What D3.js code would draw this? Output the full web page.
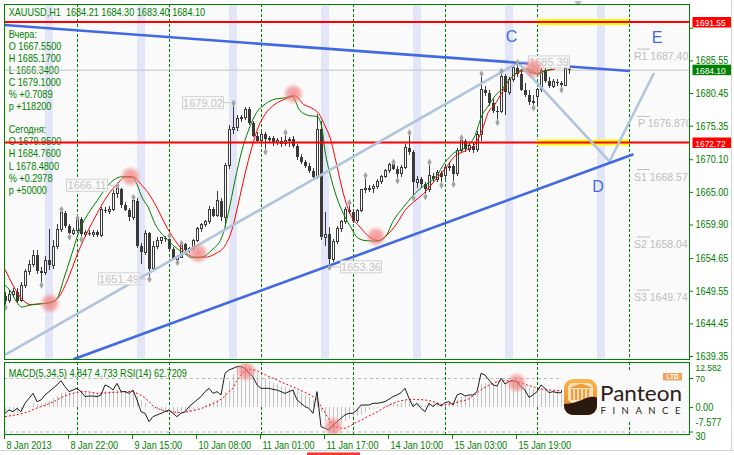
<!DOCTYPE html>
<html><head><meta charset="utf-8"><title>XAUUSD,H1</title>
<script src="https://cdn.jsdelivr.net/npm/d3@7"></script>
<style>html,body{margin:0;padding:0;background:#ffffff;}svg{display:block;}</style>
</head><body>
<svg id="chart"></svg>
<script>
// ---------------- DATA ----------------
const symbolName = "XAUUSD,H1";
const opens = [1648.8,1648.0,1649.0,1649.4,1648.0,1650.4,1652.5,1653.6,1655.1,1652.7,
1652.4,1654.3,1653.5,1656.5,1659.1,1661.7,1659.7,1658.5,1658.9,1660.8,
1658.4,1658.6,1658.4,1658.7,1658.2,1662.2,1662.0,1662.3,1664.8,1665.5,
1662.9,1662.2,1661.0,1663.6,1656.6,1655.6,1658.5,1653.0,1656.4,1657.4,
1657.8,1657.6,1656.1,1654.5,1654.8,1656.9,1655.9,1656.1,1657.4,1659.2,
1659.9,1660.3,1662.3,1661.3,1663.6,1661.0,1669.1,1674.8,1675.1,1676.4,
1676.6,1677.9,1675.8,1673.8,1673.0,1674.0,1673.2,1673.4,1672.7,1673.0,
1672.5,1673.0,1673.2,1672.2,1670.4,1669.6,1669.1,1668.3,1667.3,1674.8,
1657.9,1658.4,1654.5,1657.2,1659.2,1660.3,1662.2,1661.9,1660.5,1662.1,
1665.3,1665.5,1665.6,1665.9,1666.7,1667.4,1668.3,1669.3,1668.6,1667.8,
1668.8,1671.9,1671.2,1666.5,1667.0,1666.2,1665.4,1667.5,1667.0,1668.0,
1667.55,1668.8,1669.0,1667.8,1671.4,1673.0,1671.7,1672.2,1671.6,1674.0,
1681.0,1680.5,1678.9,1677.7,1677.6,1683.1,1680.6,1682.6,1684.4,1683.4,
1681.0,1680.1,1679.0,1679.95,1681.0,1684.0,1682.4,1681.5,1682.2,1682.0,
1681.7,1684.21];
const highs = [1649.4,1649.6,1650.0,1649.9,1650.9,1653.0,1654.3,1655.9,1655.9,1653.2,
1655.0,1659.2,1657.5,1660.0,1662.4,1662.0,1660.0,1659.3,1661.05,1661.0,
1659.0,1659.0,1659.1,1659.0,1662.6,1662.6,1662.8,1665.3,1666.11,1665.6,
1663.4,1662.5,1664.3,1664.0,1657.0,1659.0,1658.8,1657.4,1657.9,1658.0,
1658.1,1658.3,1656.4,1655.2,1657.1,1657.0,1656.4,1657.6,1659.5,1660.1,
1660.6,1662.8,1662.6,1665.2,1664.0,1669.5,1675.5,1679.02,1677.0,1677.0,
1678.3,1678.2,1676.1,1674.4,1674.4,1674.3,1673.8,1673.7,1673.4,1673.5,
1674.45,1673.6,1673.8,1672.5,1670.9,1670.0,1669.5,1668.8,1677.1,1676.0,
1661.8,1659.5,1657.6,1659.6,1660.6,1662.6,1663.45,1662.3,1662.4,1665.5,
1667.7,1666.0,1666.2,1667.0,1667.6,1668.6,1669.5,1669.8,1669.0,1669.2,
1672.5,1674.4,1671.6,1667.5,1667.4,1666.6,1669.8,1668.0,1668.4,1668.3,
1669.3,1669.6,1669.4,1671.8,1673.6,1673.2,1672.6,1672.8,1674.5,1683.6,
1681.6,1681.0,1679.5,1678.4,1684.0,1683.4,1682.9,1684.5,1685.39,1684.2,
1682.0,1680.9,1680.2,1681.3,1684.76,1684.6,1683.0,1682.6,1682.6,1682.3,
1684.6,1684.30];
const lows = [1647.1,1647.6,1648.5,1647.6,1647.8,1650.0,1652.0,1653.2,1652.2,1650.6,
1652.0,1652.8,1653.0,1656.0,1658.8,1659.3,1658.1,1658.2,1658.6,1657.7,
1658.0,1658.1,1658.0,1657.9,1658.0,1661.7,1661.5,1662.0,1664.0,1662.5,
1662.0,1660.5,1660.6,1656.2,1653.8,1655.2,1651.49,1652.8,1656.0,1656.9,
1657.2,1655.8,1654.3,1654.1,1654.6,1655.5,1655.4,1655.9,1657.2,1658.8,
1659.5,1660.0,1661.0,1661.0,1660.5,1659.5,1668.5,1674.0,1674.5,1675.9,
1676.2,1675.5,1673.5,1672.6,1672.4,1671.4,1672.8,1672.2,1672.3,1672.0,
1672.2,1672.0,1671.8,1670.0,1669.3,1668.7,1668.0,1667.0,1667.0,1657.5,
1656.5,1653.36,1654.0,1656.8,1658.8,1660.0,1661.5,1660.2,1660.2,1661.8,
1664.9,1665.0,1664.9,1665.4,1666.3,1667.1,1668.0,1668.4,1666.9,1667.4,
1668.5,1670.8,1664.2,1665.6,1665.8,1664.4,1665.0,1666.5,1666.6,1666.2,
1667.0,1668.2,1666.34,1667.5,1671.0,1671.3,1671.2,1671.0,1671.2,1673.0,
1680.0,1678.5,1677.3,1676.0,1677.3,1677.0,1680.2,1682.2,1683.0,1680.8,
1679.8,1678.6,1678.3,1678.48,1680.6,1682.0,1681.2,1681.3,1681.6,1681.1,
1681.5,1683.40];
const closes = [1648.0,1649.0,1649.4,1648.0,1650.4,1652.5,1653.6,1655.1,1652.7,1652.4,
1654.3,1653.5,1656.5,1659.1,1661.7,1659.7,1658.5,1658.9,1660.8,1658.4,
1658.6,1658.4,1658.7,1658.2,1662.2,1662.0,1662.3,1664.8,1665.5,1662.9,
1662.2,1661.0,1663.6,1656.6,1655.6,1658.5,1653.0,1656.4,1657.4,1657.8,
1657.6,1656.1,1654.5,1654.8,1656.9,1655.9,1656.1,1657.4,1659.2,1659.9,
1660.3,1662.3,1661.3,1663.6,1661.0,1669.1,1674.8,1675.1,1676.4,1676.6,
1677.9,1675.8,1673.8,1673.0,1674.0,1673.2,1673.4,1672.7,1673.0,1672.5,
1673.0,1673.2,1672.2,1670.4,1669.6,1669.1,1668.3,1667.3,1674.8,1657.9,
1658.4,1654.5,1657.2,1659.2,1660.3,1662.2,1661.9,1660.5,1662.1,1665.3,
1665.5,1665.6,1665.9,1666.7,1667.4,1668.3,1669.3,1668.6,1667.8,1668.8,
1671.9,1671.2,1666.5,1667.0,1666.2,1665.4,1667.5,1667.0,1668.0,1667.3,
1668.8,1669.0,1667.8,1671.4,1673.0,1671.7,1672.2,1671.6,1674.0,1681.0,
1680.5,1678.9,1677.7,1677.6,1683.1,1680.6,1682.6,1684.4,1683.4,1681.0,
1680.1,1679.0,1679.1,1681.0,1684.0,1682.4,1681.5,1682.2,1682.0,1681.7,
1684.21,1684.10];

// smoothed moving averages: [bar, price]
const greenMA = [[0,1650.4],[1.25,1649.6],[2.9,1647.8],[4.2,1647.0],[6.25,1647.3],[8.75,1647.5],[11.25,1647.7],[13,1648.3],[14.6,1651.2],[16.7,1655.3],[18.75,1659.2],[20.8,1661.6],[23,1663.6],[25.4,1665.7],[27.5,1667.0],[29.6,1667.4],[31.7,1667.4],[33,1666.2],[34.2,1664.2],[35.8,1662.6],[37.5,1660.0],[40,1657.9],[42.5,1656.4],[45,1655.3],[46.7,1654.7],[49.2,1654.8],[51.7,1655.9],[54.2,1657.9],[55.8,1661.6],[57.5,1666.8],[59.2,1671.4],[60.8,1674.5],[62.9,1677.4],[65,1678.7],[67.5,1679.5],[70,1679.7],[71.7,1680.0],[73.75,1677.7],[76.25,1676.9],[78,1676.8],[79.2,1675.1],[80,1671.4],[81.25,1667.8],[82.9,1664.2],[84.6,1661.6],[86.7,1659.2],[88,1657.9],[90,1657.4],[93,1657.3],[95,1657.9],[97.1,1660.5],[99.6,1662.6],[101.7,1664.2],[103.75,1665.5],[105.4,1666.2],[107.9,1667.5],[110,1669.6],[112.5,1671.2],[115,1671.9],[117.5,1673.8],[119.2,1676.9],[120.8,1678.4],[122.5,1680.0],[124.2,1681.0],[125.8,1682.3],[127.9,1683.6],[130,1684.2],[131.7,1683.9],[133.3,1683.4],[135,1683.9],[136.7,1684.2]];
const redMA = [[0,1652.9],[2,1650.4],[4.2,1648.3],[6.25,1647.4],[8.75,1647.5],[12,1647.8],[14,1649.1],[16.25,1652.2],[18.3,1655.6],[20.8,1659.0],[23,1661.6],[25.4,1664.2],[28,1666.2],[30,1667.3],[32,1667.3],[34,1666.2],[36.25,1664.4],[37.5,1663.1],[40,1660.0],[42.5,1657.4],[45,1655.6],[47.5,1654.8],[50,1654.8],[52.5,1655.3],[55,1656.6],[56.7,1659.0],[58.3,1663.1],[60,1667.8],[61.7,1671.9],[63.3,1675.1],[65,1677.1],[67.5,1678.7],[70,1679.5],[72.5,1680.0],[74.6,1678.7],[77,1678.0],[78.5,1677.2],[80,1675.3],[81.25,1673.5],[82.9,1669.3],[84.6,1664.7],[86.25,1661.6],[88.75,1659.5],[91.25,1657.9],[93.3,1657.4],[95.4,1658.2],[97.9,1660.0],[100,1662.1],[102.5,1663.6],[104.6,1664.7],[107.1,1666.5],[110,1668.6],[112.5,1670.6],[115,1671.4],[117.5,1672.5],[119.2,1674.5],[120.8,1677.4],[122.5,1678.7],[124.2,1680.5],[125.8,1682.3],[127.5,1683.4],[130,1683.9],[132.5,1683.5],[135,1683.9],[137.5,1684.2]];

// MACD(5,34,5) main, signal and RSI(14)
const macd = [-1.34,-1.04,-1.34,-1.63,-1.04,-0.36,0.32,1.10,0.81,0.90,
1.59,1.88,2.56,3.24,4.21,4.31,4.02,4.21,4.60,4.51,
4.31,4.21,4.12,4.02,4.41,4.70,4.70,4.80,5.00,4.60,
4.41,4.21,4.41,3.24,2.07,1.29,0.12,-0.46,-0.85,-1.04,
-1.34,-1.63,-2.02,-2.02,-1.63,-1.63,-1.34,-0.85,-0.36,0.12,
0.61,1.29,1.59,2.07,2.27,4.51,7.50,9.80,11.60,12.40,
12.582,12.10,11.20,10.00,9.00,8.30,7.70,7.10,6.60,6.10,
5.80,5.50,5.20,4.60,4.00,3.40,2.80,2.20,3.00,-1.50,
-4.00,-6.50,-7.577,-6.00,-4.60,-4.00,-3.50,-3.00,-2.50,-1.90,
-1.30,-0.80,-0.46,-0.27,0.12,0.51,0.90,1.10,1.00,1.29,
2.07,2.27,1.10,0.90,0.71,0.51,0.90,0.90,1.10,1.00,
1.29,1.39,1.29,2.07,2.85,3.05,3.34,3.54,4.21,6.75,
7.14,6.94,6.75,6.55,7.33,7.14,7.14,7.23,7.33,6.75,
6.16,5.58,5.19,5.00,5.58,5.48,5.00,4.80,4.60,4.51,
4.70,4.847];
const signal = [-2.80,-2.60,-2.41,-2.21,-1.92,-1.63,-1.34,-0.75,-0.27,0.12,
0.51,1.00,1.49,2.07,2.75,3.24,3.73,4.02,4.31,4.51,
4.51,4.41,4.21,4.02,4.02,4.12,4.21,4.31,4.31,4.41,
4.51,4.51,4.51,4.02,3.44,2.66,1.58,0.32,-0.36,-0.75,
-1.14,-1.34,-1.43,-1.53,-1.63,-1.53,-1.24,-1.04,-0.75,-0.46,
0.03,0.51,1.00,1.59,2.27,3.24,4.51,5.48,7.92,9.38,
10.64,11.03,11.03,10.64,10.06,9.47,8.89,8.40,7.92,7.33,
6.84,6.36,5.87,5.38,4.80,4.31,3.73,3.05,2.07,0.32,
-1.63,-3.58,-5.23,-5.91,-6.21,-6.21,-5.72,-5.04,-4.36,-3.87,
-3.20,-2.60,-2.00,-1.43,-0.66,-0.07,0.51,1.10,1.49,1.88,
2.07,2.27,2.27,2.17,2.17,2.07,1.88,1.59,1.20,0.81,
0.61,0.81,1.10,1.39,1.78,1.97,2.46,3.24,4.02,5.00,
5.77,6.46,6.94,7.43,7.62,7.72,7.72,7.62,7.43,7.04,
6.65,6.26,5.97,5.48,5.29,5.09,5.00,4.90,4.80,4.80,
4.76,4.733];
const rsi = [43.6,46.1,44.8,47.3,44.8,51.1,54.8,58.5,52.3,53.6,
57.3,59.8,62.3,64.8,68.0,63.5,59.8,61.0,62.3,59.8,
56.1,56.5,56.5,56.1,57.3,64.8,63.5,61.0,66.0,59.8,
59.8,58.5,61.0,53.6,44.8,43.6,37.4,41.1,42.4,43.6,
44.8,46.1,43.6,41.1,43.6,44.8,48.6,51.1,53.6,56.1,
59.8,62.3,58.5,59.8,57.3,73.5,76.0,77.2,78.5,78.5,
77.2,73.5,71.0,64.8,62.3,62.3,62.3,61.5,61.0,59.8,
58.5,59.8,61.0,53.6,51.1,48.6,47.3,43.6,59.8,33.6,
32.4,31.1,34.9,37.4,39.9,42.4,43.6,43.6,46.1,49.8,
49.8,49.8,51.1,51.1,51.6,52.3,54.1,56.1,57.3,59.0,
62.3,54.8,48.6,51.1,47.3,44.8,51.1,48.6,51.1,49.1,
51.6,52.3,49.8,57.3,58.5,56.5,57.3,57.3,59.8,73.5,
72.2,68.5,64.8,64.0,69.8,65.5,67.3,68.0,67.3,63.5,
61.0,55.5,57.3,59.8,64.8,62.3,59.0,59.8,59.0,59.0,
66.0,62.7209];
const rsiLevels = [70, 30];

// axis ticks and labels
const priceTicks = [1639.35,1644.45,1649.55,1654.65,1659.90,1665.00,1670.10,1675.35,1680.45,1685.55,1690.65];
const hiddenPriceLabels = [1690.65];   // hidden under the 1691.55 tag in the picture
const timeLabels = ["8 Jan 2013","8 Jan 22:00","9 Jan 15:00","10 Jan 08:00","11 Jan 01:00","11 Jan 17:00","14 Jan 10:00","15 Jan 03:00","15 Jan 19:00"];
const timeLabelBars = [0,16,32,48,64,80,96,112,128];
const daySeparatorBars = [18,41,64,87,110,133,156];
const sessionBars = [11,34,57,80,103,126,149];

// fractals (bar indices)
const fractalUp = [14,18,28,32,41,44,57,70,86,90,97,101,106,114,119,124,128];
const fractalDown = [0,9,16,19,36,43,65,81,98,102,105,109,112,123,132,139];
const fractalLabelBars = [28,57,36,81,128];
const fractalLabelKinds = ["high","high","low","low","high"];
const fractalLabelSides = ["left","left","left","right","right"];

// horizontal levels and pivots
const redLevels = [1691.55, 1672.72];
const highlightFromBar = 133, highlightToBar = 156;
const pivotNames = ["R1","P","S1","S2","S3"];
const pivotValues = [1687.40,1676.87,1668.57,1658.04,1649.74];
const pivotTexts = ["R1 1687.40","P 1676.870","S1 1668.57","S2 1658.04","S3 1649.74"];

// drawn objects: [bar, price]
const trendUpper = [[-0.1,1691.08],[156.25,1683.90]];
const trendLower = [[17.1,1638.83],[157.1,1670.88]];
const channelPath = [[0,1639.51],[128.3,1685.19],[151.1,1669.75],[162.25,1683.58]];
const waveNames = ["C","D","E"];
const wavePoints = [[125.2,1688.43],[146.8,1665.03],[161.7,1688.22]];
const glowMain = [[11.25,1647.6],[31.4,1667.4],[48.3,1655.4],[72.1,1680.3],[92.75,1658.0],[132.1,1684.3]];
const glowSub = [[60.25,75.2],[82.1,33.6],[127.9,66.5]];

// info panels
const yesterdayLines = ["Вчера:","O 1667.5500","H 1685.1700","L 1666.3400","C 1679.1000","% +0.7089","p +118200"];
const todayLines = ["Сегодня:","O 1679.9500","H 1684.7600","L 1678.4800","% +0.2978","p +50000"];

// ---------------- CHART ----------------
const W=734,H=455, PL=4,PR=690,PT=4,PB=360,ST=362,SB=435;
const FONT="'Liberation Sans', Arial, sans-serif";
const FS=10.6, SX=0.86;
const GREEN="#008000", PLOTBG="#fafafa", CANDLE="#3a3a3a";
const n = closes.length, idx = d3.range(n);

const svg = d3.select("#chart").attr("width",W).attr("height",H);
svg.append("rect").attr("width",W).attr("height",H).attr("fill","#ffffff");

const x = d3.scaleLinear().domain([0,1]).range([5,9]);
const y = d3.scaleLinear().domain([1639.35,1691.55]).range([356,22]);
const yM = d3.scaleLinear().domain([d3.min(macd), d3.max(macd)]).range([433,364]);
const yR = d3.scaleLinear().domain([30,70]).range([431.5,378]);

const defs = svg.append("defs");
defs.append("clipPath").attr("id","cm").append("rect").attr("x",PL).attr("y",PT).attr("width",PR-PL).attr("height",PB-PT);
defs.append("clipPath").attr("id","cs").append("rect").attr("x",PL).attr("y",ST).attr("width",PR-PL).attr("height",SB-ST);
const rg = defs.append("radialGradient").attr("id","glow");
rg.append("stop").attr("offset","0%").attr("stop-color","#f07070").attr("stop-opacity",0.72);
rg.append("stop").attr("offset","55%").attr("stop-color","#f28080").attr("stop-opacity",0.62);
rg.append("stop").attr("offset","100%").attr("stop-color","#f4a0a0").attr("stop-opacity",0);

function mt(g, xx, yy, str, fill, size, anchor){
  return g.append("text").attr("transform",`translate(${xx},${yy}) scale(${SX},1)`)
    .attr("font-family",FONT).attr("font-size",size||FS).attr("fill",fill||GREEN)
    .attr("text-anchor",anchor||"start").style("white-space","pre").text(str);
}

// plot backgrounds
svg.append("rect").attr("x",PL).attr("y",PT).attr("width",PR-PL).attr("height",PB-PT).attr("fill",PLOTBG);
svg.append("rect").attr("x",PL).attr("y",ST).attr("width",PR-PL).attr("height",SB-ST).attr("fill",PLOTBG);

const main = svg.append("g").attr("clip-path","url(#cm)");
const sub = svg.append("g").attr("clip-path","url(#cs)");

// session bands
main.selectAll("rect.band").data(sessionBars).join("rect").attr("class","band")
  .attr("x",d=>x(d)-4).attr("y",PT).attr("width",8).attr("height",PB-PT).attr("fill","#e3e5f8");

// day separators
[ [main,PT,PB],[sub,ST,SB] ].forEach(([g,a,b])=>{
  g.selectAll(null).data(daySeparatorBars).join("line")
   .attr("x1",d=>x(d)+0.5).attr("x2",d=>x(d)+0.5).attr("y1",a).attr("y2",b)
   .attr("stroke",GREEN).attr("stroke-width",1).attr("stroke-dasharray","3,2");
});

// header and info text
const info = main.append("g");
mt(info, 8.7, 16, `${symbolName}  ${opens[n-1].toFixed(2)} ${highs[n-1].toFixed(2)} ${lows[n-1].toFixed(2)} ${closes[n-1].toFixed(2)}`);
yesterdayLines.forEach((s,k)=>mt(info, 8.7, 37.5+12*k, s));
todayLines.forEach((s,k)=>mt(info, 8.7, 133+12.2*k, s));

// current price line
main.append("line").attr("x1",PL).attr("x2",PR).attr("y1",y(closes[n-1])+0.5).attr("y2",y(closes[n-1])+0.5)
  .attr("stroke","#c4c4c4").attr("stroke-width",1);

// candles
const cg = main.append("g").attr("shape-rendering","crispEdges");
cg.selectAll("line.wick").data(idx).join("line").attr("class","wick")
  .attr("x1",i=>x(i)+0.5).attr("x2",i=>x(i)+0.5).attr("y1",i=>y(highs[i])).attr("y2",i=>y(lows[i]))
  .attr("stroke",CANDLE).attr("stroke-width",1);
cg.selectAll("rect.body").data(idx).join("rect").attr("class","body")
  .attr("x",i=>closes[i]>=opens[i]? x(i)-0.5 : x(i)-1)
  .attr("width",i=>closes[i]>=opens[i]? 2 : 3)
  .attr("y",i=>y(Math.max(opens[i],closes[i])))
  .attr("height",i=>Math.max(1,Math.abs(y(opens[i])-y(closes[i]))))
  .attr("fill",i=>closes[i]>=opens[i]? "#ffffff" : CANDLE)
  .attr("stroke",i=>closes[i]>=opens[i]? CANDLE : "none").attr("stroke-width",1);

// moving averages
const maLine = d3.line().x(d=>x(d[0])).y(d=>y(d[1])).curve(d3.curveMonotoneX);
main.append("path").attr("d",maLine(redMA)).attr("fill","none").attr("stroke","#ff0000").attr("stroke-width",1);
main.append("path").attr("d",maLine(greenMA)).attr("fill","none").attr("stroke",GREEN).attr("stroke-width",1);

// yellow highlights + red levels
main.selectAll("rect.hl").data(redLevels).join("rect").attr("class","hl")
  .attr("x",x(highlightFromBar)).attr("width",x(highlightToBar)-x(highlightFromBar))
  .attr("y",d=>y(d)-3).attr("height",6).attr("fill","#ffff00");
main.selectAll("line.lvl").data(redLevels).join("line").attr("class","lvl")
  .attr("x1",PL).attr("x2",PR).attr("y1",d=>y(d)).attr("y2",d=>y(d))
  .attr("stroke","#ff0000").attr("stroke-width",2.2);

// trend lines
const objLine = d3.line().x(d=>x(d[0])).y(d=>y(d[1]));
main.append("path").attr("d",objLine(channelPath)).attr("fill","none").attr("stroke","#b0c4de").attr("stroke-width",2.6).attr("stroke-linejoin","round");
main.append("path").attr("d",objLine(trendUpper)).attr("fill","none").attr("stroke","#4169e1").attr("stroke-width",2.6);
main.append("path").attr("d",objLine(trendLower)).attr("fill","none").attr("stroke","#4169e1").attr("stroke-width",2.6);

// pivots
pivotValues.forEach((v,k)=>{
  main.append("line").attr("x1",637).attr("x2",650).attr("y1",y(v)+0.5).attr("y2",y(v)+0.5).attr("stroke","#c0c0c0");
  main.append("text").attr("x",pivotNames[k].length===1?638:634).attr("y",y(v)+11.5)
    .attr("font-family",FONT).attr("font-size",10.5).attr("fill","#bdbdbd").text(pivotTexts[k]);
});

// fractal markers
const sym = d3.symbol().type(d3.symbolDiamond).size(16);
main.selectAll("path.fu").data(fractalUp).join("path").attr("class","fu")
  .attr("transform",i=>`translate(${x(i)+0.5},${y(highs[i])+1})`).attr("d",sym).attr("fill","#a4a4a4");
main.selectAll("path.fd").data(fractalDown).join("path").attr("class","fd")
  .attr("transform",i=>`translate(${x(i)+0.5},${y(lows[i])+1})`).attr("d",sym).attr("fill","#a4a4a4");

// fractal value labels
fractalLabelBars.forEach((b,k)=>{
  const v = fractalLabelKinds[k]==="high"? highs[b] : lows[b];
  const cy = y(v), cx = x(b);
  const left = fractalLabelSides[k]==="left";
  const bx = left ? cx-10-41 : cx+11;
  main.append("line").attr("x1",left?cx-10:cx+11).attr("x2",left?cx-3:cx+3).attr("y1",cy+0.5).attr("y2",cy+0.5).attr("stroke","#c8c8c8");
  main.append("rect").attr("x",bx+0.5).attr("y",cy-5.5).attr("width",41).attr("height",12)
    .attr("fill","#fafafa").attr("stroke","#d2d2d2");
  main.append("text").attr("x",bx+21).attr("y",cy+4.5).attr("text-anchor","middle")
    .attr("font-family",FONT).attr("font-size",11).attr("fill","#c4c4c4").text(v.toFixed(2));
});

// wave letters
waveNames.forEach((s,k)=>{
  main.append("text").attr("x",x(wavePoints[k][0])).attr("y",y(wavePoints[k][1]))
    .attr("font-family",FONT).attr("font-size",16).attr("fill","#4169e1").text(s);
});

// glow circles
main.selectAll("circle.g").data(glowMain).join("circle").attr("class","g")
  .attr("cx",d=>x(d[0])).attr("cy",d=>y(d[1])).attr("r",11).attr("fill","url(#glow)");

// little arrow at top
svg.append("path").attr("d","M574,1 L582,1 L578,6 Z").attr("fill","#b4c4b4");

// ---- sub window ----
sub.selectAll("line.lv").data(rsiLevels).join("line").attr("class","lv")
  .attr("x1",PL).attr("x2",PR).attr("y1",d=>yR(d)+0.5).attr("y2",d=>yR(d)+0.5)
  .attr("stroke","#b8b8b8").attr("stroke-dasharray","3,3");
sub.append("g").attr("shape-rendering","crispEdges").selectAll("line").data(idx).join("line")
  .attr("x1",i=>x(i)+0.5).attr("x2",i=>x(i)+0.5).attr("y1",yM(0)).attr("y2",i=>yM(macd[i]))
  .attr("stroke","#c2c2c2").attr("stroke-width",1);
sub.append("path").attr("d",d3.line().x(i=>x(i)).y(i=>yM(signal[i]))(idx))
  .attr("fill","none").attr("stroke","#ff0000").attr("stroke-width",1).attr("stroke-dasharray","2,2");
sub.append("path").attr("d",d3.line().x(i=>x(i)).y(i=>yR(rsi[i]))(idx))
  .attr("fill","none").attr("stroke","#1e1e1e").attr("stroke-width",1);
sub.selectAll("circle.g").data(glowSub).join("circle").attr("class","g")
  .attr("cx",d=>x(d[0])).attr("cy",d=>yR(d[1])).attr("r",11).attr("fill","url(#glow)");
mt(sub, 8.7, 376.5, `MACD(5,34,5) ${macd[n-1].toFixed(3)} ${signal[n-1].toFixed(3)} RSI(14) ${rsi[n-1].toFixed(4)}`);

// logo
const logo = svg.append("g");
logo.append("rect").attr("x",562).attr("y",371).attr("width",PR-562).attr("height",50).attr("fill",PLOTBG);
const og = defs.append("linearGradient").attr("id","og").attr("x1",0).attr("y1",0).attr("x2",0).attr("y2",1);
og.append("stop").attr("offset","0%").attr("stop-color","#fbb54a");
og.append("stop").attr("offset","100%").attr("stop-color","#ee7b22");
defs.append("clipPath").attr("id","lc").append("rect").attr("x",564).attr("y",379).attr("width",33).attr("height",36).attr("rx",9);
const icon = logo.append("g").attr("clip-path","url(#lc)");
icon.append("rect").attr("x",564).attr("y",379).attr("width",33).attr("height",36).attr("fill","url(#og)");
icon.append("rect").attr("x",568).attr("y",383).attr("width",25).attr("height",20).attr("rx",5).attr("fill","#fde3bd");
icon.append("path").attr("d","M569,388 L581,383.5 L593,388 Z").attr("fill","#f29a3a");
[571,575,579,583,587].forEach(cx=>icon.append("rect").attr("x",cx).attr("y",389).attr("width",2.2).attr("height",11).attr("fill","#f39b3c"));
icon.append("path").attr("d","M564,404 C572,404 579,401 585,398.5 C590,396.5 594,396.5 597,397.5 L597,415 L564,415 Z").attr("fill","#2a1a0e");
logo.append("text").attr("x",600).attr("y",401).attr("font-family","Lato, 'Open Sans', sans-serif").attr("font-size",21)
  .attr("fill","#2b2118").attr("textLength",82).attr("lengthAdjust","spacingAndGlyphs").text("Panteon");
logo.append("text").attr("x",600.5).attr("y",413.5).attr("font-family","Lato, 'Open Sans', sans-serif").attr("font-size",9.5)
  .attr("fill","#2b2118").attr("textLength",80).attr("lengthAdjust","spacing").text("FINANCE");
logo.append("rect").attr("x",663).attr("y",373).attr("width",19).attr("height",7.5).attr("fill","#f4a25c");
logo.append("text").attr("x",672.5).attr("y",379.3).attr("text-anchor","middle").attr("font-family",FONT)
  .attr("font-size",6.5).attr("font-weight","bold").attr("fill","#ffffff").text("LTD");

// frames
[[PT,PB],[ST,SB]].forEach(([a,b])=>svg.append("rect").attr("x",PL+0.5).attr("y",a+0.5).attr("width",PR-PL-1).attr("height",b-a-1)
  .attr("fill","none").attr("stroke",GREEN).attr("stroke-width",1));

// right price axis
const ya = svg.append("g").attr("transform",`translate(${PR},0)`)
  .call(d3.axisRight(y).tickValues(priceTicks).tickFormat(d=>hiddenPriceLabels.includes(d)?"":d3.format(".2f")(d)).tickSize(3));
ya.select(".domain").remove();
ya.selectAll(".tick line").attr("stroke",GREEN);
ya.selectAll(".tick text").attr("fill",GREEN).attr("font-family",FONT).attr("font-size",FS)
  .attr("x",6.4).attr("transform",`scale(${SX},1)`);

// level tags on the price axis
function tag(v, color){
  const g = svg.append("g");
  g.append("rect").attr("x",692.5).attr("y",y(v)-5).attr("width",39).attr("height",10.5).attr("fill",color);
  mt(g, 695.3, y(v)+4.2, v.toFixed(2), "#ffffff", 9.8);
}
redLevels.forEach(v=>tag(v,"#ff0000"));
tag(closes[n-1], GREEN);

// sub window scale labels
const sa = svg.append("g");
mt(sa, 695.5, yR(30)+8, "30");
mt(sa, 695.5, yM(d3.min(macd))-7.5, d3.min(macd).toFixed(3));
mt(sa, 695.5, yM(d3.max(macd))+6.5, d3.max(macd).toFixed(3), GREEN, 9.8);
mt(sa, 695.5, yR(70)+4.2, "70", GREEN, 9.8);
mt(sa, 695.5, yM(0)+3.6, (0).toFixed(2));
[yM(0), yR(70), yR(30)].forEach(v=>sa.append("line").attr("x1",PR).attr("x2",PR+3).attr("y1",v+0.5).attr("y2",v+0.5).attr("stroke",GREEN));

// time axis
const xa = svg.append("g").attr("transform",`translate(-1,${SB})`)
  .call(d3.axisBottom(x).tickValues(timeLabelBars).tickFormat((d,k)=>timeLabels[k]).tickSize(4).tickPadding(2));
xa.select(".domain").remove();
xa.selectAll(".tick line").attr("stroke",GREEN);
xa.selectAll(".tick text").attr("fill",GREEN).attr("font-family",FONT).attr("font-size",FS)
  .attr("text-anchor","start").attr("x",2.3).attr("transform",`scale(${SX},1)`);

// window edges
svg.append("line").attr("x1",0).attr("x2",W).attr("y1",450.5).attr("y2",450.5).attr("stroke","#d4d4d4");
svg.append("line").attr("x1",731.5).attr("x2",731.5).attr("y1",0).attr("y2",451).attr("stroke","#d4d4d4");
svg.append("rect").attr("x",307).attr("y",452.5).attr("width",53).attr("height",2.5).attr("fill","#ff3030");
</script>
</body></html>
